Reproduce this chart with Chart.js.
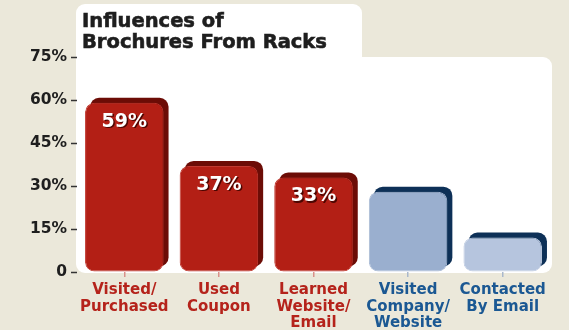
<!DOCTYPE html>
<html>
<head>
<meta charset="utf-8">
<script src="https://cdn.jsdelivr.net/npm/chart.js@4/dist/chart.umd.min.js"></script>
<style>
  html, body { margin: 0; padding: 0; background: #ebe8da; }
  #wrap { width: 569px; height: 330px; }
</style>
</head>
<body>
<div id="wrap"><canvas id="chart" width="569" height="330"></canvas></div>
<script>
const titleLines = ['Influences of', 'Brochures From Racks']
const categories = [
  ['Visited/', 'Purchased'],
  ['Used', 'Coupon'],
  ['Learned', 'Website/', 'Email'],
  ['Visited', 'Company/', 'Website'],
  ['Contacted', 'By Email'],
]
const shares = [59, 37, 33, 28, 12]
const showValue = [true, true, true, false, false]
const yMin = 0
const yMax = 75
const yStep = 15

const frontColors = ['#b31f15', '#b31f15', '#b31f15', '#9aafcf', '#b6c5de']
const edgeColors = ['#c03a31', '#c03a31', '#c03a31', '#aabbd6', '#c3cfe4']
const backColors = ['#6c0c06', '#6c0c06', '#6c0c06', '#0d3057', '#0d3057']
const labelColors = ['#b5231b', '#b5231b', '#b5231b', '#1b5893', '#1b5893']
const tickColors = ['#d99089', '#d99089', '#d99089', '#a9b8cc', '#a9b8cc']

Chart.defaults.font.family = "'DejaVu Sans', sans-serif"

function roundRect(ctx, x, y, w, h, r) {
  ctx.beginPath()
  ctx.roundRect(x, y, w, h, r)
  ctx.fill()
}

// white panels: title tab + plot area
const panelPlugin = {
  id: 'panels',
  beforeDraw(chart) {
    const { ctx, chartArea: a } = chart
    ctx.save()
    ctx.fillStyle = '#ffffff'
    roundRect(ctx, a.left - 1, 4, 286, 60, [9, 9, 0, 0])
    roundRect(ctx, a.left - 1, a.top, a.right - a.left + 3, a.bottom - a.top + 1, [0, 9, 9, 9])
    ctx.fillStyle = '#1e1e1e'
    ctx.strokeStyle = '#1e1e1e'
    ctx.lineWidth = 0.6
    ctx.font = "bold 19.5px 'DejaVu Sans'"
    ctx.textBaseline = 'alphabetic'
    titleLines.forEach((line, i) => {
      ctx.fillText(line, a.left + 5, 27 + i * 21)
      ctx.strokeText(line, a.left + 5, 27 + i * 21)
    })
    ctx.restore()
  },
}

// dark back face behind each bar, shifted up and right
const depthPlugin = {
  id: 'depth',
  beforeDatasetsDraw(chart) {
    const { ctx } = chart
    const bars = chart.getDatasetMeta(0).data
    ctx.save()
    bars.forEach((bar, i) => {
      const { x, y, base, width } = bar.getProps(['x', 'y', 'base', 'width'], true)
      ctx.fillStyle = backColors[i]
      roundRect(ctx, x - width / 2 + 5, y - 5, width, base - y, 9)
    })
    ctx.restore()
  },
  afterDatasetsDraw(chart) {
    const { ctx } = chart
    const bars = chart.getDatasetMeta(0).data
    ctx.save()
    ctx.font = "bold 19px 'DejaVu Sans'"
    ctx.textAlign = 'center'
    ctx.textBaseline = 'middle'
    ctx.fillStyle = '#ffffff'
    ctx.shadowColor = 'rgba(70, 5, 0, 0.95)'
    ctx.shadowOffsetX = 1.5
    ctx.shadowOffsetY = 1.5
    bars.forEach((bar, i) => {
      if (!showValue[i]) return
      const { x, y } = bar.getProps(['x', 'y'], true)
      ctx.fillText(shares[i] + '%', x, y + 19)
    })
    ctx.restore()
  },
}

new Chart(document.getElementById('chart'), {
  type: 'bar',
  data: {
    labels: categories,
    datasets: [
      {
        data: shares,
        backgroundColor: frontColors,
        borderColor: edgeColors,
        borderWidth: 1,
        borderRadius: 9,
        borderSkipped: false,
        categoryPercentage: 1,
        barPercentage: 0.83,
      },
    ],
  },
  options: {
    responsive: false,
    devicePixelRatio: 1,
    animation: false,
    layout: { padding: { top: 57, right: 19, left: 0, bottom: 0 } },
    plugins: {
      legend: { display: false },
      tooltip: { enabled: false },
    },
    scales: {
      x: {
        afterFit: (s) => { s.height = 58 },
        border: { display: false },
        grid: {
          offset: false,
          drawOnChartArea: false,
          tickLength: 5,
          tickColor: (c) => tickColors[c.index],
          lineWidth: 1.5,
        },
        ticks: {
          padding: 5,
          maxRotation: 0,
          autoSkip: false,
          color: (c) => labelColors[c.index],
          font: { size: 15, weight: 'bold', lineHeight: 1.1 },
        },
      },
      y: {
        min: yMin,
        max: yMax,
        afterFit: (s) => { s.width = 77 },
        border: { display: false },
        grid: {
          drawOnChartArea: false,
          tickLength: 6,
          tickColor: '#333333',
          tickWidth: 1.5,
        },
        ticks: {
          stepSize: yStep,
          padding: 4,
          color: '#1e1e1e',
          font: { size: 15.5, weight: 'bold' },
          callback: (v) => (v === 0 ? '0' : v + '%'),
        },
      },
    },
  },
  plugins: [panelPlugin, depthPlugin],
})
</script>
</body>
</html>
